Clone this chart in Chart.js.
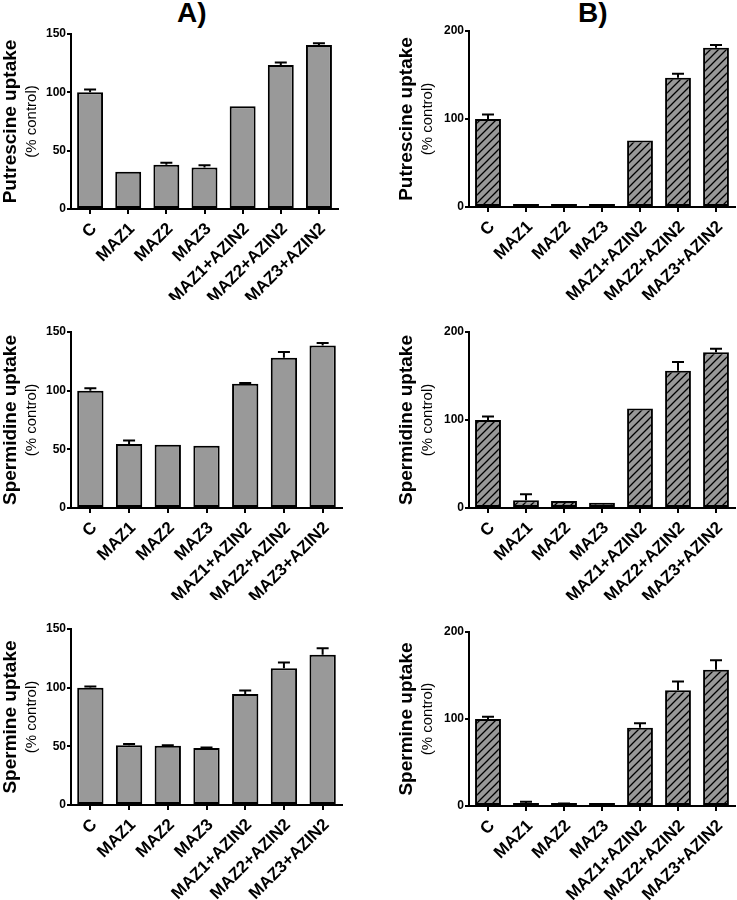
<!DOCTYPE html>
<html>
<head>
<meta charset="utf-8">
<title>Polyamine uptake</title>
<script src="https://cdn.jsdelivr.net/npm/chart.js@4.4.0/dist/chart.umd.min.js"></script>
<style>
  body { margin: 0; background: #fff; }
  #page { position: relative; width: 737px; height: 900px; font-family: 'Liberation Sans', Arial, sans-serif; }
  .panel-label { position: absolute; top: -1px; font-weight: bold; font-size: 28px; line-height: 1; }
  canvas { position: absolute; }
</style>
</head>
<body>
<div id="page">
  <div class="panel-label" style="left:177px">A)</div>
  <div class="panel-label" style="left:578px">B)</div>
  <canvas id="putA" width="368" height="300" style="left:0;top:0"></canvas>
  <canvas id="putB" width="369" height="300" style="left:368px;top:0"></canvas>
  <canvas id="spdA" width="368" height="300" style="left:0;top:300px"></canvas>
  <canvas id="spdB" width="369" height="300" style="left:368px;top:300px"></canvas>
  <canvas id="spmA" width="368" height="300" style="left:0;top:600px"></canvas>
  <canvas id="spmB" width="369" height="300" style="left:368px;top:600px"></canvas>
</div>
<script>
// ---------- data ----------
const categories = ['C', 'MAZ1', 'MAZ2', 'MAZ3', 'MAZ1+AZIN2', 'MAZ2+AZIN2', 'MAZ3+AZIN2'];

const putrescineA    = [100, 32, 38, 35.5, 88, 123.5, 140.5];
const putrescineAErr = [2.5, 0, 1.7, 2, 0, 2, 1.5];
const putrescineB    = [100, 1.5, 1.5, 1.5, 75.5, 147, 181];
const putrescineBErr = [5, 0, 0, 0, 0, 4.5, 3];

const spermidineA    = [100, 54.5, 54, 53, 106, 128, 138.5];
const spermidineAErr = [2, 3, 0, 0, 0.5, 5, 2.2];
const spermidineB    = [100, 8.7, 8, 6, 113, 156, 177];
const spermidineBErr = [4, 7, 0, 0, 0, 10, 4];

const spermineA    = [100, 51, 50.5, 48.5, 94.5, 116.5, 128];
const spermineAErr = [1, 1, 0.5, 0.5, 3, 5, 5.7];
const spermineB    = [100, 3.4, 2.3, 1.5, 90, 133, 156.5];
const spermineBErr = [2.5, 1.5, 0.5, 0, 5, 10, 11];

const FONT = "'Liberation Sans', Arial, sans-serif";

// ---------- hatch pattern for the B column ----------
function hatchPattern() {
  const c = document.createElement('canvas');
  c.width = 8; c.height = 8;
  const g = c.getContext('2d');
  g.fillStyle = '#999999';
  g.fillRect(0, 0, 8, 8);
  g.strokeStyle = '#000';
  g.lineWidth = 1.3;
  g.beginPath();
  g.moveTo(0, 8); g.lineTo(8, 0);
  g.moveTo(-1, 1); g.lineTo(1, -1);
  g.moveTo(7, 9); g.lineTo(9, 7);
  g.stroke();
  return g.createPattern(c, 'repeat');
}

// ---------- plugins: error bars (upper only) + two-line y title ----------
const errorBars = {
  id: 'errorBars',
  afterDatasetsDraw(chart, args, opts) {
    const errs = opts.errors;
    if (!errs) return;
    const ctx = chart.ctx;
    const y = chart.scales.y;
    const vals = chart.data.datasets[0].data;
    ctx.save();
    ctx.strokeStyle = '#000';
    ctx.lineWidth = 2;
    chart.getDatasetMeta(0).data.forEach((bar, i) => {
      if (!errs[i]) return;
      const top = y.getPixelForValue(vals[i] + errs[i]);
      ctx.beginPath();
      ctx.moveTo(bar.x, bar.y);
      ctx.lineTo(bar.x, top);
      ctx.moveTo(bar.x - 6, top);
      ctx.lineTo(bar.x + 6, top);
      ctx.stroke();
    });
    ctx.restore();
  }
};

const yTitles = {
  id: 'yTitles',
  afterDraw(chart, args, opts) {
    if (!opts.main) return;
    const ctx = chart.ctx;
    const a = chart.chartArea;
    const cy = (a.top + a.bottom) / 2;
    ctx.save();
    ctx.fillStyle = '#000';
    ctx.textAlign = 'center';
    ctx.textBaseline = 'alphabetic';
    ctx.translate(opts.mainX, cy);
    ctx.rotate(-Math.PI / 2);
    ctx.font = 'bold 19px ' + FONT;
    ctx.fillText(opts.main, 0, 0);
    ctx.restore();
    ctx.save();
    ctx.fillStyle = '#000';
    ctx.textAlign = 'center';
    ctx.textBaseline = 'alphabetic';
    ctx.translate(opts.subX, cy);
    ctx.rotate(-Math.PI / 2);
    ctx.font = '15px ' + FONT;
    ctx.fillText('(% control)', 0, 0);
    ctx.restore();
  }
};

// ---------- one panel ----------
function makePanel(id, values, errors, yMax, step, title, hatched, box) {
  const canvas = document.getElementById(id);
  const H = canvas.height;
  return new Chart(canvas, {
    type: 'bar',
    data: {
      labels: categories,
      datasets: [{
        data: values,
        backgroundColor: hatched ? hatchPattern() : '#999999',
        borderColor: '#000',
        borderWidth: 2,
        borderSkipped: false,
        minBarLength: 3,
        barPercentage: 0.68,
        categoryPercentage: 1
      }]
    },
    options: {
      responsive: false,
      devicePixelRatio: 1,
      animation: false,
      layout: { padding: { top: box.top, right: canvas.width - box.right, left: 0, bottom: 0 } },
      plugins: {
        legend: { display: false },
        tooltip: { enabled: false },
        errorBars: { errors: errors },
        yTitles: { main: title, mainX: box.mainX, subX: box.subX }
      },
      scales: {
        x: {
          offset: true,
          grid: { drawOnChartArea: false, drawTicks: true, tickLength: 5, color: '#000', lineWidth: 2, offset: false },
          border: { display: true, color: '#000', width: 2 },
          ticks: {
            color: '#000', autoSkip: false, minRotation: 45, maxRotation: 45, padding: 5, labelOffset: 4,
            font: { family: FONT, size: 17, weight: 'bold' }
          },
          afterFit: (s) => { s.height = H - box.bottom; }
        },
        y: {
          min: 0,
          max: yMax,
          grid: { drawOnChartArea: false, drawTicks: true, tickLength: 4, color: '#000', lineWidth: 2 },
          border: { display: true, color: '#000', width: 2 },
          ticks: {
            stepSize: step, color: '#000', padding: 1,
            font: { family: FONT, size: 12, weight: 'bold' }
          },
          afterFit: (s) => { s.width = box.left; }
        }
      }
    },
    plugins: [errorBars, yTitles]
  });
}

const boxA1 = { left: 71, top: 34, bottom: 209, right: 338, mainX: 16, subX: 36 };
const boxB1 = { left: 101, top: 31, bottom: 207, right: 367, mainX: 44, subX: 64 };
const boxA2 = { left: 71, top: 32, bottom: 208, right: 342, mainX: 16, subX: 36 };
const boxB2 = { left: 101, top: 32, bottom: 208, right: 367, mainX: 44, subX: 64 };
const boxA3 = { left: 71, top: 29, bottom: 205, right: 342, mainX: 16, subX: 36 };
const boxB3 = { left: 101, top: 32, bottom: 206, right: 367, mainX: 44, subX: 64 };

makePanel('putA', putrescineA, putrescineAErr, 150, 50, 'Putrescine uptake', false, boxA1);
makePanel('putB', putrescineB, putrescineBErr, 200, 100, 'Putrescine uptake', true, boxB1);
makePanel('spdA', spermidineA, spermidineAErr, 150, 50, 'Spermidine uptake', false, boxA2);
makePanel('spdB', spermidineB, spermidineBErr, 200, 100, 'Spermidine uptake', true, boxB2);
makePanel('spmA', spermineA, spermineAErr, 150, 50, 'Spermine uptake', false, boxA3);
makePanel('spmB', spermineB, spermineBErr, 200, 100, 'Spermine uptake', true, boxB3);
</script>
</body>
</html>
